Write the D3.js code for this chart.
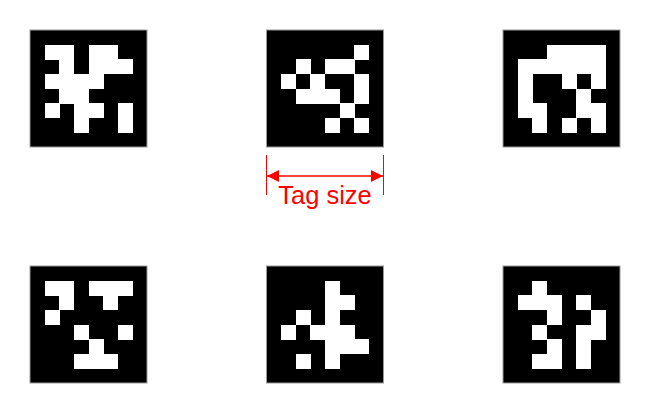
<!DOCTYPE html>
<html>
<head>
<meta charset="utf-8">
<script src="https://cdn.jsdelivr.net/npm/d3@7"></script>
<style>
  html, body { margin: 0; padding: 0; background: #fff; }
</style>
</head>
<body>
<script>
//////////////// Daten ////////////////
// 6 Marker, je 6x6 Datenbits (1 = weiss), innen in schwarzem Rahmen
const tagCols = [0, 1, 2, 0, 1, 2];
const tagRows = [0, 0, 0, 1, 1, 1];
const tagBits = [
  ["110110", "010111", "111100", "011000", "101101", "001001"],
  ["000001", "010110", "101001", "011101", "000010", "000101"],
  ["001111", "111111", "100101", "100010", "110011", "010101"],
  ["110111", "010010", "100000", "001001", "000100", "001110"],
  ["000100", "000110", "010100", "101110", "000111", "010100"],
  ["010000", "111010", "001001", "010011", "001010", "011010"]
];
const gridSize = 8;          // 6 Daten + 2 Rand
const labelText = "Tag size";
const markedTag = 1;         // der Marker mit der Bemaßung

//////////////// SVG ////////////////
const width = 645, height = 416;
const tagSize = 117;

const svg = d3.select("body").append("svg")
  .attr("width", width)
  .attr("height", height);

const xTag = d3.scaleLinear().domain([0, 2]).range([30, 503]);
const yTag = d3.scaleLinear().domain([0, 1]).range([30, 266]);
const cell = d3.scaleLinear().domain([0, gridSize]).range([0, tagSize]);

//////////////// Marker ////////////////
const tags = svg.selectAll("g.tag")
  .data(tagBits)
  .join("g")
  .attr("class", "tag")
  .attr("transform", (d, i) => "translate(" + xTag(tagCols[i]) + "," + yTag(tagRows[i]) + ")");

tags.append("rect")
  .attr("width", tagSize)
  .attr("height", tagSize)
  .attr("fill", "#000")
  .attr("stroke", "#9a9a9a")
  .attr("stroke-width", 1);

tags.selectAll("rect.bit")
  .data(d => {
    var out = [];
    d.forEach((row, r) => row.split("").forEach((b, c) => {
      if (b === "1") out.push({r: r + 1, c: c + 1});
    }));
    return out;
  })
  .join("rect")
  .attr("class", "bit")
  .attr("x", d => cell(d.c))
  .attr("y", d => cell(d.r))
  .attr("width", cell(1) + 0.4)
  .attr("height", cell(1) + 0.4)
  .attr("fill", "#fff")
  .attr("shape-rendering", "crispEdges");

//////////// Bemaßung /////////////
const red = "#ff0000";
const x0 = xTag(tagCols[markedTag]);
const x1 = x0 + tagSize;
const yArr = yTag(0) + tagSize + 29;

svg.append("defs").selectAll("marker")
  .data(["start", "end"])
  .join("marker")
  .attr("id", d => "arr-" + d)
  .attr("viewBox", "0 0 12 12")
  .attr("refX", d => d === "end" ? 12 : 0)
  .attr("refY", 6)
  .attr("markerWidth", 12)
  .attr("markerHeight", 12)
  .attr("markerUnits", "userSpaceOnUse")
  .attr("orient", "auto")
  .append("path")
  .attr("d", d => d === "end" ? "M0,0L12,6L0,12Z" : "M12,0L0,6L12,12Z")
  .attr("fill", red);

svg.selectAll("line.tick")
  .data([x0, x1])
  .join("line")
  .attr("class", "tick")
  .attr("x1", d => d).attr("x2", d => d)
  .attr("y1", yTag(0) + tagSize + 8)
  .attr("y2", yTag(0) + tagSize + 48)
  .attr("stroke", red)
  .attr("stroke-width", 1);

svg.append("line")
  .attr("x1", x0 + 0.5).attr("x2", x1 - 0.5)
  .attr("y1", yArr).attr("y2", yArr)
  .attr("stroke", red)
  .attr("stroke-width", 1.5)
  .attr("marker-start", "url(#arr-start)")
  .attr("marker-end", "url(#arr-end)");

svg.append("text")
  .attr("x", (x0 + x1) / 2)
  .attr("y", yArr + 28)
  .attr("text-anchor", "middle")
  .attr("font-family", "Liberation Sans, Arial, sans-serif")
  .attr("font-size", 25.5)
  .attr("fill", red)
  .text(labelText);
</script>
</body>
</html>
